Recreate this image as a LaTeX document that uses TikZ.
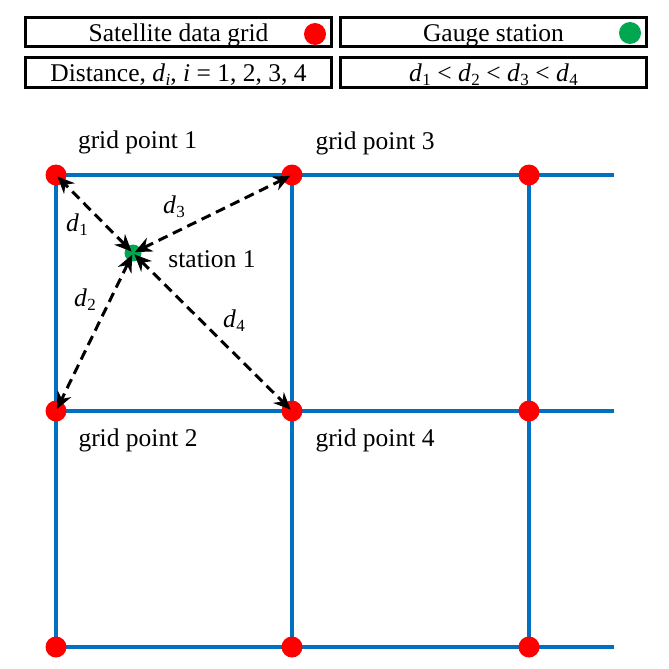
\documentclass[tikz,border=0pt]{standalone}
\usepackage{fontspec}
\setmainfont{Liberation Serif}
\usetikzlibrary{arrows.meta}
\definecolor{gridblue}{RGB}{0,112,192}
\definecolor{dotred}{RGB}{255,0,0}
\definecolor{dotgreen}{RGB}{0,166,80}
\newcommand\dsub[2]{\textit{#1}\kern0.5pt\raisebox{-0.35ex}{\fontsize{17}{17}\selectfont #2}}
\begin{document}
\begin{tikzpicture}[x=1pt,y=-1pt,
  font=\fontsize{25.5}{27}\selectfont,
  legbox/.style={draw=black,line width=3pt,minimum width=306pt,minimum height=29pt,inner sep=0pt,
     text height=23pt,text depth=5pt},
  gridline/.style={draw=gridblue,line width=4pt},
  reddot/.style={circle,fill=dotred,minimum size=21pt,inner sep=0pt},
  greendot/.style={circle,fill=dotgreen,minimum size=17pt,inner sep=0pt},
  distarrow/.style={draw=black,line width=3pt,dash pattern=on 10pt off 6pt,
     {Stealth[length=17pt,width=15pt]}-{Stealth[length=17pt,width=15pt]},
     shorten <=2pt, shorten >=2pt},
  lbl/.style={inner sep=0pt}
]
\useasboundingbox (0,0) rectangle (669,669);
\fill[white] (0,0) rectangle (669,669);

% legend boxes
\node[legbox] (b1) at (178.5,32.5) {Satellite data grid};
\node[legbox] (b2) at (493.5,32.5) {Gauge station};
\node[legbox] (b3) at (178.5,72.5) {Distance, \dsub{d}{\textit{i}}, \textit{i} = 1, 2, 3, 4};
\node[legbox] (b4) at (493.5,72.5) {\dsub{d}{1} < \dsub{d}{2} < \dsub{d}{3} < \dsub{d}{4}};
\node[reddot,minimum width=20pt,minimum height=22pt] (lr) at (315,34) {};
\node[greendot,minimum width=19pt,minimum height=22pt] (lg) at (630,33) {};

% grid point nodes
\coordinate (c11) at (56,175);
\coordinate (c21) at (292,175);
\coordinate (c31) at (529,175);
\coordinate (c12) at (56,411);
\coordinate (c22) at (292,411);
\coordinate (c32) at (529,411);
\coordinate (c13) at (56,647);
\coordinate (c23) at (292,647);
\coordinate (c33) at (529,647);
\coordinate (r1) at (614,175);
\coordinate (r2) at (614,411);
\coordinate (r3) at (614,647);

\draw[gridline] (c11) -- (r1);
\draw[gridline] (c12) -- (r2);
\draw[gridline] (c13) -- (r3);
\draw[gridline] (c11) -- (c13);
\draw[gridline] (c21) -- (c23);
\draw[gridline] (c31) -- (c33);

\node[reddot] (g11) at (c11) {};
\node[reddot] (g21) at (c21) {};
\node[reddot] (g31) at (c31) {};
\node[reddot] (g12) at (c12) {};
\node[reddot] (g22) at (c22) {};
\node[reddot] (g32) at (c32) {};
\node[reddot] (g13) at (c13) {};
\node[reddot] (g23) at (c23) {};
\node[reddot] (g33) at (c33) {};

\node[greendot] (st) at (133,253) {};

% distance arrows
\draw[distarrow] (st.center) -- (g11.center);
\draw[distarrow] (st.center) -- (g12.center);
\draw[distarrow] (st.center) -- (g21.center);
\draw[distarrow] (st.center) -- (g22.center);

% labels
\node[lbl] (t1) at (137.5,142) {grid point 1};
\node[lbl] (t3) at (375,143) {grid point 3};
\node[lbl] (t2) at (138,440) {grid point 2};
\node[lbl] (t4) at (375,440) {grid point 4};
\node[lbl] (ts) at (212,259) {station 1};
\node[lbl] (l1) at (77,225) {\dsub{d}{1}};
\node[lbl] (l3) at (174,207) {\dsub{d}{3}};
\node[lbl] (l2) at (85,300) {\dsub{d}{2}};
\node[lbl] (l4) at (234,321) {\dsub{d}{4}};
\end{tikzpicture}
\end{document}
